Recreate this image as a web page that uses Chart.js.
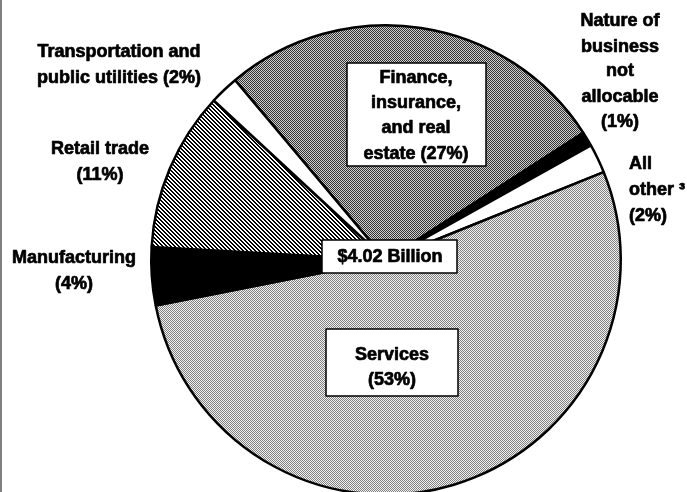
<!DOCTYPE html>
<html><head><meta charset="utf-8">
<script src="https://cdn.jsdelivr.net/npm/chart.js@4.4.1/dist/chart.umd.min.js"></script>
<style>
html,body{margin:0;padding:0;background:#fff;overflow:hidden;width:687px;height:492px}
#wrap{position:absolute;left:0;top:0;width:687px;height:520px}
</style></head><body>
<div id="wrap"><canvas id="c" width="687" height="520"></canvas></div>
<script>
// ---- data ----
const categories = ["Finance, insurance, and real estate", "Nature of business not allocable", "All other", "Services", "Manufacturing", "Retail trade", "Transportation and public utilities"];
const shares = [27, 1, 2, 53, 4, 11, 2];
const totalLabel = "$4.02 Billion";
const labelText = [
  ["Finance,", "insurance,", "and real", "estate (" + shares[0] + "%)"],
  ["Nature of", "business", "not", "allocable", "(" + shares[1] + "%)"],
  ["All", "other \u00b3", "(" + shares[2] + "%)"],
  ["Services", "(" + shares[3] + "%)"],
  ["Manufacturing", "(" + shares[4] + "%)"],
  ["Retail trade", "(" + shares[5] + "%)"],
  ["Transportation and", "public utilities (" + shares[6] + "%)"]
];

const canvas = document.getElementById('c');
const ctx = canvas.getContext('2d');

function checker(dark, light) {
  const c = document.createElement('canvas'); c.width = 2; c.height = 2;
  const x = c.getContext('2d');
  x.fillStyle = light; x.fillRect(0, 0, 2, 2);
  x.fillStyle = dark; x.fillRect(0, 0, 1, 1); x.fillRect(1, 1, 1, 1);
  return ctx.createPattern(c, 'repeat');
}
function hatch() {
  const n = 4;
  const c = document.createElement('canvas'); c.width = n; c.height = n;
  const x = c.getContext('2d');
  x.fillStyle = '#fff'; x.fillRect(0, 0, n, n);
  x.fillStyle = '#000';
  for (let y = 0; y < n; y++) {
    for (let k = 0; k < 2; k++) x.fillRect((y + k) % n, y, 1, 1);
  }
  return ctx.createPattern(c, 'repeat');
}

const fills = [
  checker('#333333', '#cfcfcf'),
  '#000000',
  '#ffffff',
  checker('#808080', '#f2f2f2'),
  '#000000',
  hatch(),
  '#ffffff'
];

// label layout (positions only)
const layout = [
  {x: 416, ys: [78, 103, 128, 154], box: [347, 63, 139, 103]},
  {x: 620, ys: [21, 47, 71, 97, 122]},
  {x: 629, ys: [164, 190, 216], align: 'left'},
  {x: 392, ys: [355, 380], box: [326, 329, 132, 67]},
  {x: 74, ys: [258, 284]},
  {x: 100, ys: [149, 175]},
  {x: 119, ys: [52, 78]}
];
const FONT = 'bold 18px "Liberation Sans", Arial, sans-serif';

const labelsPlugin = {
  id: 'labels',
  afterDraw(chart) {
    const g = chart.ctx;
    g.save();
    // left border line from scan
    g.strokeStyle = '#555'; g.lineWidth = 1.5;
    g.beginPath(); g.moveTo(1, 0); g.lineTo(1, 492); g.stroke();
    g.font = FONT;
    g.textBaseline = 'middle';
    g.lineJoin = 'round';
    function txt(t, x, y) {
      g.fillStyle = '#000'; g.strokeStyle = '#000'; g.lineWidth = 0.7;
      g.strokeText(t, x, y); g.fillText(t, x, y);
    }
    function box(r) {
      g.fillStyle = '#fff'; g.fillRect(r[0], r[1], r[2], r[3]);
      g.strokeStyle = '#000'; g.lineWidth = 1.5; g.strokeRect(r[0], r[1], r[2], r[3]);
    }
    layout.forEach((L, i) => {
      if (L.box) box(L.box);
      g.textAlign = L.align || 'center';
      labelText[i].forEach((t, j) => txt(t, L.x, L.ys[j]));
    });
    box([322, 240, 135, 33]);
    g.textAlign = 'center';
    txt(totalLabel, 390, 257);
    g.restore();
  }
};

new Chart(canvas, {
  type: 'pie',
  data: {
    labels: categories,
    datasets: [{
      data: shares,
      backgroundColor: fills,
      borderColor: '#000',
      borderWidth: 2.5,
      hoverOffset: 0
    }]
  },
  options: {
    responsive: false,
    animation: false,
    rotation: -40,
    layout: {padding: {left: 150, right: 65, top: 24, bottom: 24}},
    plugins: {legend: {display: false}, tooltip: {enabled: false}, title: {display: false}}
  },
  plugins: [labelsPlugin]
});
</script>
</body></html>
